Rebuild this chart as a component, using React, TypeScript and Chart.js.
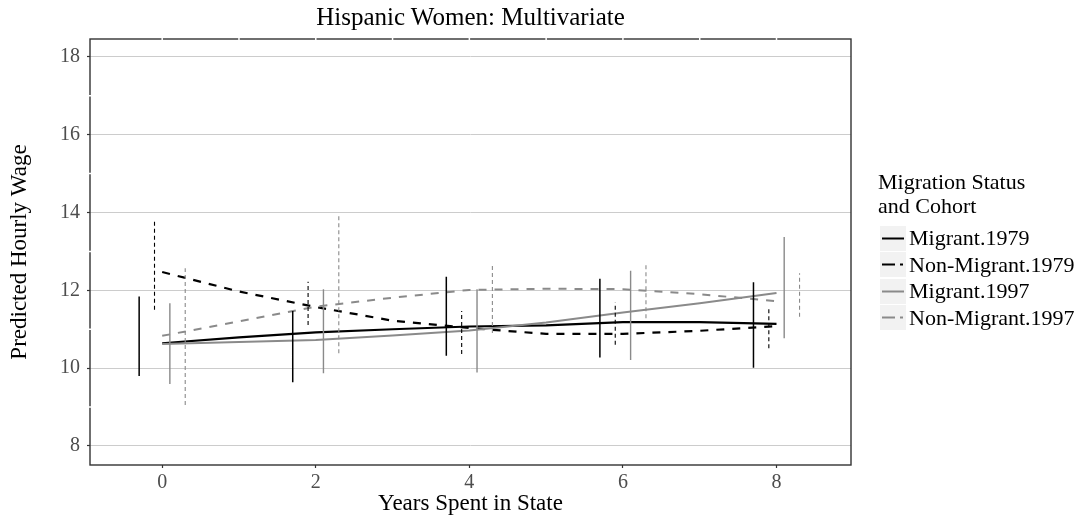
import React, { useEffect, useRef } from "react";
import Chart from "chart.js/auto";

const titleText = "Hispanic Women: Multivariate";
const xTitle = "Years Spent in State";
const yTitle = "Predicted Hourly Wage";
const legendTitle = ["Migration Status", "and Cohort"];

const seriesNames = ["Migrant.1979", "Non-Migrant.1979", "Migrant.1997", "Non-Migrant.1997"];

const years = [0, 1, 2, 3, 4, 5, 6, 7, 8];
const migrant1979 = [10.64, 10.79, 10.92, 11.0, 11.07, 11.1, 11.18, 11.18, 11.14];
const nonMigrant1979 = [12.47, 11.97, 11.57, 11.22, 11.03, 10.88, 10.88, 10.96, 11.08];
const migrant1997 = [10.62, 10.67, 10.72, 10.84, 10.97, 11.17, 11.43, 11.67, 11.93];
const nonMigrant1997 = [10.83, 11.2, 11.58, 11.81, 12.01, 12.04, 12.03, 11.9, 11.72];

const barYears = [0, 2, 4, 6, 8];
const migrant1979Lo = [9.8, 9.64, 10.32, 10.27, 10.01];
const migrant1979Hi = [11.84, 11.47, 12.35, 12.3, 12.21];
const nonMigrant1979Lo = [11.5, 11.11, 10.36, 10.6, 10.51];
const nonMigrant1979Hi = [13.78, 12.22, 11.47, 11.69, 11.58];
const migrant1997Lo = [9.59, 9.87, 9.89, 10.21, 10.77];
const migrant1997Hi = [11.67, 12.03, 12.03, 12.5, 13.37];
const nonMigrant1997Lo = [9.05, 10.38, 10.9, 11.28, 11.32];
const nonMigrant1997Hi = [12.57, 13.94, 12.65, 12.65, 12.44];

const xTicks = [0, 2, 4, 6, 8];
const yTicks = [8, 10, 12, 14, 16, 18];

const SERIF = "'Liberation Serif', 'DejaVu Serif', serif";
const BLACK = "#000000";
const GRAY = "#8a8a8a";
const DODGE = [-0.3, -0.1, 0.1, 0.3];

function linePoints(ys: number[]) {
  return years.map((x, i) => ({ x, y: ys[i] }));
}

function barPoints(lo: number[], hi: number[], off: number) {
  const pts: { x: number; y: number | null }[] = [];
  barYears.forEach((x, i) => {
    pts.push({ x: x + off, y: lo[i] });
    pts.push({ x: x + off, y: hi[i] });
    pts.push({ x: x + off, y: null });
  });
  return pts;
}

const borderPlugin = {
  id: "panelBorder",
  afterDatasetsDraw(chart: any) {
    const { ctx, chartArea, scales } = chart;
    const { left, right, top, bottom } = chartArea;
    ctx.save();
    ctx.strokeStyle = "#333333";
    ctx.lineWidth = 1.4;
    ctx.strokeRect(left, top, right - left, bottom - top);
    ctx.strokeStyle = "#ffffff";
    ctx.lineWidth = 1.5;
    for (let v = 0; v <= 8; v++) {
      const px = scales.x.getPixelForValue(v);
      ctx.beginPath();
      ctx.moveTo(px, top - 1);
      ctx.lineTo(px, top + 1);
      ctx.stroke();
    }
    for (let v = 9; v <= 17; v += 2) {
      const py = scales.y.getPixelForValue(v);
      ctx.beginPath();
      ctx.moveTo(left - 1, py);
      ctx.lineTo(left + 1, py);
      ctx.stroke();
    }
    ctx.restore();
  },
};

function LegendKey({ color, dashed }: { color: string; dashed: boolean }) {
  return (
    <svg width={26} height={25} style={{ display: "block" }}>
      <rect x={0} y={0} width={26} height={25} fill="#f2f2f2" />
      <line
        x1={2}
        y1={12.5}
        x2={24}
        y2={12.5}
        stroke={color}
        strokeWidth={2}
        strokeDasharray={dashed ? "13 5 3 10" : undefined}
      />
    </svg>
  );
}

export default function App() {
  const canvasRef = useRef<HTMLCanvasElement | null>(null);

  useEffect(() => {
    const canvas = canvasRef.current;
    if (!canvas) return;
    const chart = new Chart(canvas, {
      type: "line",
      data: {
        datasets: [
          { label: "eb-m79", data: barPoints(migrant1979Lo, migrant1979Hi, DODGE[0]), borderColor: BLACK, borderWidth: 1.5, pointRadius: 0, spanGaps: false, tension: 0 },
          { label: "eb-nm79", data: barPoints(nonMigrant1979Lo, nonMigrant1979Hi, DODGE[1]), borderColor: BLACK, borderWidth: 1.1, borderDash: [4, 3], pointRadius: 0, spanGaps: false, tension: 0 },
          { label: "eb-m97", data: barPoints(migrant1997Lo, migrant1997Hi, DODGE[2]), borderColor: GRAY, borderWidth: 1.4, pointRadius: 0, spanGaps: false, tension: 0 },
          { label: "eb-nm97", data: barPoints(nonMigrant1997Lo, nonMigrant1997Hi, DODGE[3]), borderColor: GRAY, borderWidth: 1.1, borderDash: [4, 3], pointRadius: 0, spanGaps: false, tension: 0 },
          { label: seriesNames[3], data: linePoints(nonMigrant1997), borderColor: GRAY, borderWidth: 2, borderDash: [8, 8], pointRadius: 0, tension: 0 },
          { label: seriesNames[2], data: linePoints(migrant1997), borderColor: GRAY, borderWidth: 2, pointRadius: 0, tension: 0 },
          { label: seriesNames[1], data: linePoints(nonMigrant1979), borderColor: BLACK, borderWidth: 2.2, borderDash: [8, 8], pointRadius: 0, tension: 0 },
          { label: seriesNames[0], data: linePoints(migrant1979), borderColor: BLACK, borderWidth: 2.2, pointRadius: 0, tension: 0 },
        ],
      },
      options: {
        animation: false,
        responsive: false,
        maintainAspectRatio: false,
        layout: { padding: { left: 0, right: 226, top: 39, bottom: 0 } },
        plugins: {
          legend: { display: false },
          tooltip: { enabled: false },
          title: { display: false },
        },
        scales: {
          x: {
            type: "linear",
            min: -0.94,
            max: 8.97,
            afterFit: (s: any) => {
              s.height = 55;
            },
            afterBuildTicks: (s: any) => {
              s.ticks = xTicks.map((v) => ({ value: v }));
            },
            grid: {
              drawOnChartArea: false,
              drawTicks: true,
              tickLength: 3,
              tickColor: "#333333",
              tickWidth: 1.2,
            },
            border: { display: false },
            ticks: {
              color: "#4d4d4d",
              font: { family: SERIF, size: 20 },
              padding: 3,
              maxRotation: 0,
              autoSkip: false,
            },
            title: {
              display: true,
              text: xTitle,
              color: "#000000",
              font: { family: SERIF, size: 23 },
              padding: { top: 0, bottom: 2 },
            },
          },
          y: {
            type: "linear",
            min: 7.51,
            max: 18.46,
            afterFit: (s: any) => {
              s.width = 90;
            },
            afterBuildTicks: (s: any) => {
              s.ticks = yTicks.map((v) => ({ value: v }));
            },
            grid: {
              color: "#cccccc",
              lineWidth: 1,
              drawTicks: true,
              tickLength: 3,
              tickColor: "#333333",
              tickWidth: 1.2,
            },
            border: { display: false },
            ticks: {
              color: "#4d4d4d",
              font: { family: SERIF, size: 20 },
              padding: 7,
              autoSkip: false,
            },
            title: {
              display: true,
              text: yTitle,
              color: "#000000",
              font: { family: SERIF, size: 23 },
              padding: { top: 6, bottom: 0 },
            },
          },
        },
      },
      plugins: [borderPlugin],
    });
    return () => chart.destroy();
  }, []);

  const keys = [
    { color: BLACK, dashed: false },
    { color: BLACK, dashed: true },
    { color: GRAY, dashed: false },
    { color: GRAY, dashed: true },
  ];

  return (
    <div style={{ position: "fixed", left: 0, top: 0, width: 1077, height: 520, background: "#ffffff", fontFamily: SERIF, overflow: "hidden" }}>
      <canvas ref={canvasRef} width={1077} height={520} style={{ position: "absolute", left: 0, top: 0, width: 1077, height: 520 }} />
      <div
        style={{
          position: "absolute",
          left: 90,
          width: 761,
          top: 3,
          textAlign: "center",
          fontSize: 25,
          lineHeight: "28px",
          color: "#000",
        }}
      >
        {titleText}
      </div>
      <div style={{ position: "absolute", left: 878, top: 170, fontSize: 22, lineHeight: "24px", color: "#000", whiteSpace: "nowrap" }}>
        {legendTitle.map((t) => (
          <div key={t}>{t}</div>
        ))}
      </div>
      <div style={{ position: "absolute", left: 880, top: 225 }}>
        {seriesNames.map((name, i) => (
          <div key={name} style={{ display: "flex", alignItems: "center", height: 26.5 }}>
            <LegendKey color={keys[i].color} dashed={keys[i].dashed} />
            <span style={{ marginLeft: 3, fontSize: 22, lineHeight: "24px", color: "#000", whiteSpace: "nowrap" }}>{name}</span>
          </div>
        ))}
      </div>
    </div>
  );
}
